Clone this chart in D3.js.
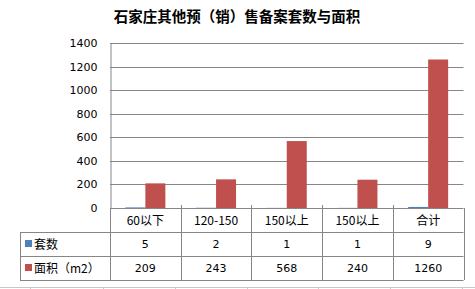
<!DOCTYPE html>
<html>
<head>
<meta charset="utf-8">
<script src="https://cdn.jsdelivr.net/npm/d3@7"></script>
<style>
  body { margin: 0; background: #fff; }
  svg { display: block; }
  text { font-family: "Noto Sans CJK SC", "DejaVu Sans", sans-serif; fill: #000; }
</style>
</head>
<body>
<svg id="chart" width="475" height="289"></svg>
<script>
// --- データ ---
const categories = ["60以下", "120-150", "150以上", "150以上", "合计"];
const seriesNames = ["套数", "面积（m2）"];
const countValues = [5, 2, 1, 1, 9];
const areaValues = [209, 243, 568, 240, 1260];
const yTicks = [0, 200, 400, 600, 800, 1000, 1200, 1400];
const title = "石家庄其他预（销）售备案套数与面积";

const COLORS = ["#4F81BD", "#C0504D"];
const GRID = "#868686";

const svg = d3.select("#chart");
const plot = { left: 110, right: 463.5, top: 43, bottom: 208 };
const rowH = 24;
const legendLeft = 20;

const series = [countValues, areaValues];

// スケール
const x = d3.scaleBand().domain(categories.map((d, i) => i)).range([plot.left, plot.right]);
const y = d3.scaleLinear().domain([0, 1400]).range([plot.bottom, plot.top]);
const xSub = d3.scaleBand()
    .domain(seriesNames)
    .range([x.bandwidth() / 2 - 20, x.bandwidth() / 2 + 20]);

// タイトル
svg.append("text")
    .attr("x", 237)
    .attr("y", 22)
    .attr("text-anchor", "middle")
    .style("font-size", "14.5px")
    .style("font-weight", "bold")
    .text(title);

// グリッド線
svg.append("g")
    .selectAll("line")
    .data(yTicks.filter((d) => d > 0))
    .enter()
    .append("line")
    .attr("x1", plot.left)
    .attr("x2", plot.right)
    .attr("y1", (d) => Math.round(y(d)) + 0.5)
    .attr("y2", (d) => Math.round(y(d)) + 0.5)
    .attr("stroke", GRID)
    .attr("stroke-width", 1);

// Y軸
const yAxis = svg.append("g")
    .attr("transform", `translate(${plot.left + 0.5},0)`)
    .call(d3.axisLeft(y).tickValues(yTicks).tickFormat(d3.format("d")).tickSize(0).tickPadding(13));
yAxis.select(".domain").attr("stroke", GRID);
yAxis.selectAll("text")
    .style("font-family", "'DejaVu Sans', sans-serif")
    .style("font-size", "11px")
    .attr("fill", "#000");

// 棒
seriesNames.forEach((name, si) => {
    svg.append("g")
        .selectAll("rect")
        .data(series[si])
        .enter()
        .append("rect")
        .attr("x", (d, i) => x(i) + xSub(name))
        .attr("width", xSub.bandwidth())
        .attr("y", (d) => y(d))
        .attr("height", (d) => plot.bottom - y(d))
        .attr("fill", COLORS[si]);
});

// データテーブル
const table = svg.append("g").attr("stroke", GRID).attr("fill", "none");
const tableBottom = plot.bottom + rowH * 3;

// 横線
[plot.bottom, plot.bottom + rowH, plot.bottom + rowH * 2, tableBottom].forEach((yy, i) => {
    table.append("line")
        .attr("x1", i === 0 ? plot.left : legendLeft)
        .attr("x2", plot.right)
        .attr("y1", Math.round(yy) + 0.5)
        .attr("y2", Math.round(yy) + 0.5);
});
// 縦線
categories.forEach((c, i) => {
    table.append("line")
        .attr("x1", Math.round(x(i)) + 0.5)
        .attr("x2", Math.round(x(i)) + 0.5)
        .attr("y1", plot.bottom - (i === 0 ? 0 : 3))
        .attr("y2", tableBottom);
});
table.append("line")
    .attr("x1", Math.round(plot.right) + 0.5)
    .attr("x2", Math.round(plot.right) + 0.5)
    .attr("y1", plot.bottom)
    .attr("y2", tableBottom);
table.append("line")
    .attr("x1", legendLeft + 0.5)
    .attr("x2", legendLeft + 0.5)
    .attr("y1", plot.bottom + rowH)
    .attr("y2", tableBottom);

// カテゴリ名
svg.append("g")
    .selectAll("text")
    .data(categories)
    .enter()
    .append("text")
    .attr("x", (d, i) => x(i) + x.bandwidth() / 2)
    .attr("y", plot.bottom + rowH / 2 + 4.5)
    .attr("text-anchor", "middle")
    .style("font-size", "12px")
    .text((d) => d);

// 系列行
seriesNames.forEach((name, si) => {
    const rowY = plot.bottom + rowH * (si + 1);
    svg.append("rect")
        .attr("x", legendLeft + 5)
        .attr("y", rowY + rowH / 2 - 4)
        .attr("width", 7)
        .attr("height", 7)
        .attr("fill", COLORS[si]);
    svg.append("text")
        .attr("x", legendLeft + 14)
        .attr("y", rowY + rowH / 2 + 4.5)
        .style("font-size", "12px")
        .text(name);
    svg.append("g")
        .selectAll("text")
        .data(series[si])
        .enter()
        .append("text")
        .attr("x", (d, i) => x(i) + x.bandwidth() / 2)
        .attr("y", rowY + rowH / 2 + 4)
        .attr("text-anchor", "middle")
        .style("font-family", "'DejaVu Sans', sans-serif")
        .style("font-size", "11px")
        .text((d) => d);
});

// 下端のセル罫線
const sheet = svg.append("g").attr("stroke", "#c8c8c8");
sheet.append("line").attr("x1", 0).attr("x2", 475).attr("y1", 287.5).attr("y2", 287.5);
[30, 103, 175, 247, 318, 390, 462].forEach((xx) => {
    sheet.append("line").attr("x1", xx + 0.5).attr("x2", xx + 0.5).attr("y1", 288).attr("y2", 289);
});
</script>
</body>
</html>
